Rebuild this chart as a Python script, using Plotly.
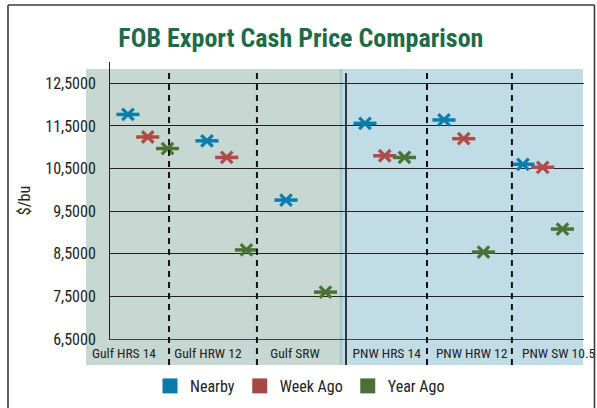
import plotly.graph_objects as go

# ---- data ----
categories = ["Gulf HRS 14", "Gulf HRW 12", "Gulf SRW", "PNW HRS 14", "PNW HRW 12", "PNW SW 10.5"]
nearby = [11.77, 11.15, 9.76, 11.56, 11.64, 10.60]
week_ago = [11.24, 10.76, None, 10.80, 11.20, 10.53]
year_ago = [10.97, 8.59, 7.60, 10.76, 8.54, 9.08]
series_names = ["Nearby", "Week Ago", "Year Ago"]
y_tick_values = [6.5, 7.5, 8.5, 9.5, 10.5, 11.5, 12.5]

# ---- styling / layout constants ----
W, H = 597, 408
L, R, T, B = 110, 584, 62, 339
FONT = "Liberation Sans Narrow, Roboto Condensed, Arial Narrow, Roboto, sans-serif"
marker_colors = ["#0A7DAC", "#AF4B48", "#4B7337"]
legend_colors = ["#0A7AAD", "#A84845", "#4A6F37"]
SLOT = 4  # slots per category group (3 points + gap)
label_pos = [-0.2, 4.05, 8.46, 13.1, 17.4, 21.8]
dash_pos = [2.08, 6.53, 15.14, 19.44]
solid_pos = 11.04
x_range = [-0.91, 23.09]


def pxx(p):
    return (p - L) / (R - L)


def pxy(p):
    return (B - p) / (B - T)


fig = go.Figure()
all_series = [nearby, week_ago, year_ago]
for s, (name, vals) in enumerate(zip(series_names, all_series)):
    xs = [c * SLOT + s for c in range(len(categories))]
    # horizontal bar of the star marker
    fig.add_trace(go.Scatter(
        x=xs, y=vals, mode="markers", name=name, legendgroup=name, showlegend=False,
        marker=dict(symbol="line-ew-open", size=16.5, color=marker_colors[s],
                    line=dict(color=marker_colors[s], width=3.5)),
        hovertemplate="%{y}<extra>" + name + "</extra>"))
    # diagonal cross of the star marker
    fig.add_trace(go.Scatter(
        x=xs, y=vals, mode="markers", name=name, legendgroup=name, showlegend=False,
        marker=dict(symbol="x-thin-open", size=11.5, color=marker_colors[s],
                    line=dict(color=marker_colors[s], width=3.2)),
        hoverinfo="skip"))
    # legend entry
    fig.add_trace(go.Scatter(
        x=[None], y=[None], mode="markers", name=name, legendgroup=name,
        marker=dict(symbol="square", size=15, color=legend_colors[s])))

shapes = []
# background panels
shapes.append(dict(type="rect", xref="paper", yref="paper", layer="below",
                   x0=pxx(86), x1=pxx(342), y0=pxy(365), y1=pxy(69),
                   fillcolor="#C6D8D1", line=dict(width=0)))
shapes.append(dict(type="rect", xref="paper", yref="paper", layer="below",
                   x0=pxx(342), x1=pxx(583), y0=pxy(365), y1=pxy(69),
                   fillcolor="#C0DCE6", line=dict(width=0)))
shapes.append(dict(type="rect", xref="paper", yref="paper", layer="below",
                   x0=pxx(339.5), x1=pxx(342.5), y0=pxy(365), y1=pxy(69),
                   fillcolor="#A9C9CE", line=dict(width=0)))
# separators
for d in dash_pos:
    shapes.append(dict(type="line", xref="x", yref="paper", layer="above",
                       x0=d, x1=d, y0=pxy(365), y1=pxy(73),
                       line=dict(color="#111111", width=2, dash="6px,5px")))
shapes.append(dict(type="line", xref="x", yref="paper", layer="above",
                   x0=solid_pos, x1=solid_pos, y0=pxy(365), y1=pxy(73),
                   line=dict(color="#111111", width=1.6)))
# outer frame (left, top, right)
frame = dict(color="#3A3A3A", width=1.6)
shapes.append(dict(type="line", xref="paper", yref="paper", x0=pxx(8), x1=pxx(8),
                   y0=pxy(5), y1=pxy(420), line=frame))
shapes.append(dict(type="line", xref="paper", yref="paper", x0=pxx(8), x1=pxx(594.5),
                   y0=pxy(5), y1=pxy(5), line=frame))
shapes.append(dict(type="line", xref="paper", yref="paper", x0=pxx(594.5), x1=pxx(594.5),
                   y0=pxy(5), y1=pxy(420), line=frame))

fig.update_layout(
    width=W, height=H,
    margin=dict(l=L, r=W - R, t=T, b=H - B, autoexpand=False),
    paper_bgcolor="white", plot_bgcolor="rgba(0,0,0,0)",
    separators=",.",
    font=dict(family=FONT, size=15, color="#222222"),
    title=dict(text="<b>FOB Export Cash Price Comparison</b>", x=0.504, xref="container",
               xanchor="center", y=1 - 38 / H, yref="container", yanchor="middle",
               font=dict(family=FONT, size=26, color="#1F6B47")),
    shapes=shapes,
    showlegend=True,
    legend=dict(orientation="h", x=300 / W, xref="container", xanchor="center",
                y=pxy(369), yanchor="top", font=dict(family=FONT, size=16, color="#222222"),
                bgcolor="rgba(0,0,0,0)", itemwidth=30, tracegroupgap=0),
    xaxis=dict(range=x_range, showgrid=False, zeroline=False, showline=True,
               linecolor="#444444", linewidth=1, tickmode="array", tickvals=label_pos,
               ticktext=categories, ticks="", tickfont=dict(family=FONT, size=13.5, color="#222222"),
               ticklabelstandoff=2),
    yaxis=dict(range=[6.5, 13.0], tickmode="array", tickvals=y_tick_values, tickformat=".4f",
               showgrid=True, gridcolor="#222222", gridwidth=1, zeroline=False,
               showline=True, linecolor="#222222", linewidth=1, ticks="",
               tickfont=dict(family=FONT, size=16, color="#222222"), ticklabelstandoff=10,
               title=dict(text="$/bu", standoff=10, font=dict(family=FONT, size=16, color="#222222"))),
)

fig.write_html("out.html", config={"displayModeBar": False},
               post_script="document.body.style.margin='0px';")
